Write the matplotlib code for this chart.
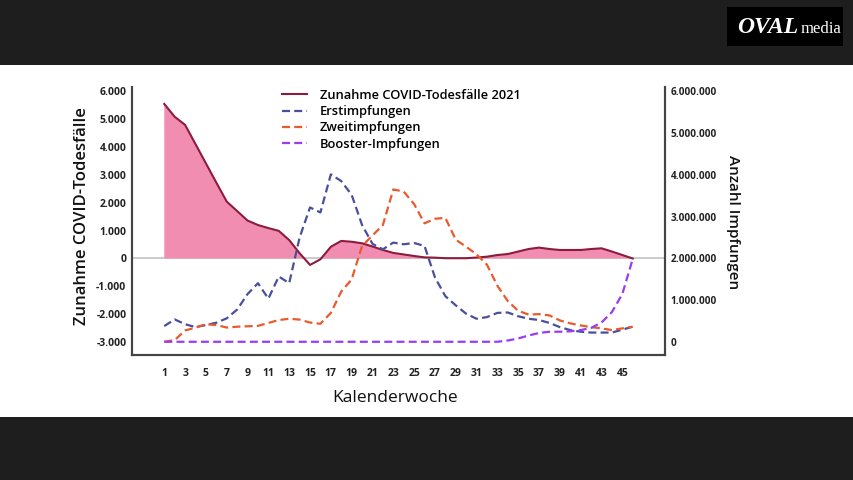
import matplotlib
matplotlib.use("Agg")
import matplotlib.pyplot as plt
from matplotlib.patches import Rectangle
from matplotlib.ticker import FuncFormatter

plt.rcParams["font.family"] = ["Open Sans", "DejaVu Sans"]

# ---- data --------------------------------------------------------------------
weeks = list(range(1, 47))

# Zunahme COVID-Todesfälle 2021 (left axis)
deaths = [5540, 5080, 4790, 4100, 3410, 2720, 2040, 1700, 1360, 1200,
          1090, 990, 660, 190, -230, -30, 420, 630, 600, 545,
          430, 305, 200, 145, 90, 40, 30, 10, 10, 10,
          35, 65, 125, 160, 250, 340, 390, 340, 305, 305,
          305, 340, 365, 250, 125, 0]

# Impfungen in Mio. (right axis)
erst = [0.385, 0.544, 0.43, 0.36, 0.41, 0.465, 0.57, 0.78, 1.15, 1.41,
        1.04, 1.57, 1.41, 2.50, 3.22, 3.10, 4.01, 3.85, 3.52, 2.80,
        2.35, 2.22, 2.38, 2.34, 2.37, 2.30, 1.55, 1.10, 0.88, 0.68,
        0.56, 0.60, 0.70, 0.71, 0.62, 0.56, 0.53, 0.46, 0.36, 0.29,
        0.25, 0.23, 0.23, 0.23, 0.30, 0.37]
zweit = [0.01, 0.05, 0.28, 0.35, 0.43, 0.41, 0.35, 0.37, 0.38, 0.39,
         0.46, 0.53, 0.56, 0.54, 0.47, 0.44, 0.70, 1.21, 1.50, 2.30,
         2.55, 2.80, 3.65, 3.60, 3.30, 2.84, 2.95, 2.97, 2.45, 2.28,
         2.10, 1.85, 1.35, 0.98, 0.75, 0.66, 0.67, 0.64, 0.52, 0.45,
         0.40, 0.36, 0.33, 0.29, 0.33, 0.37]
booster = [0.01, 0.01, 0.01, 0.01, 0.01, 0.01, 0.01, 0.01, 0.01, 0.01,
           0.01, 0.01, 0.01, 0.01, 0.01, 0.01, 0.01, 0.01, 0.01, 0.01,
           0.01, 0.01, 0.01, 0.01, 0.01, 0.01, 0.01, 0.01, 0.01, 0.01,
           0.01, 0.01, 0.01, 0.04, 0.09, 0.16, 0.22, 0.25, 0.25, 0.26,
           0.29, 0.34, 0.47, 0.72, 1.15, 1.99]

left_ticks = [-3000, -2000, -1000, 0, 1000, 2000, 3000, 4000, 5000, 6000]
right_ticks = [0, 1e6, 2e6, 3e6, 4e6, 5e6, 6e6]
x_ticks = list(range(1, 46, 2))

labels = ["Zunahme COVID-Todesfälle 2021", "Erstimpfungen",
          "Zweitimpfungen", "Booster-Impfungen"]


def de_fmt(v, pos=None):
    return f"{int(round(v)):,}".replace(",", ".")


fig = plt.figure(figsize=(8.54, 4.8), dpi=100)
fig.patch.set_facecolor("#1e1e1e")
fig.patches.append(Rectangle((0, 63 / 480), 1, 352 / 480, transform=fig.transFigure,
                             facecolor="white", edgecolor="none", zorder=-10))
# logo
fig.patches.append(Rectangle((727 / 854, 434 / 480), 116 / 854, 39 / 480,
                             transform=fig.transFigure, facecolor="black",
                             edgecolor="none", zorder=-10))
fig.text(737 / 854, 0.942, "OVAL", family="Liberation Serif", style="italic",
         weight="bold", fontsize=17, color="white", va="center", ha="left")
fig.text(801 / 854, 0.940, "media", family="Liberation Serif", fontsize=12,
         color="white", va="center", ha="left")

ax = fig.add_axes([132 / 854, 125 / 480, 533 / 854, 268 / 480])
ax.set_facecolor("none")
lo, hi = -3459, 6147
ax.set_ylim(lo, hi)
ax.set_xlim(-2.1, 49.1)

ax.axhline(0, color="#bdbdbd", lw=1.1, zorder=1)
ax.fill_between(weeks, deaths, 0, where=[d > 0 for d in deaths], interpolate=True,
                color="#f28db2", lw=0, zorder=2)
l0, = ax.plot(weeks, deaths, color="#8c1c3c", lw=1.5, zorder=3)

ax2 = ax.twinx()
ax2.set_ylim((lo + 3000) * 2000 / 3, (hi + 3000) * 2000 / 3)
dash = (0, (3.6, 1.9))
l1, = ax2.plot(weeks, [v * 1e6 for v in erst], color="#4a4f9c", lw=1.6, ls=dash)
l2, = ax2.plot(weeks, [v * 1e6 for v in zweit], color="#e95a2c", lw=1.6, ls=dash)
l3, = ax2.plot(weeks, [v * 1e6 for v in booster], color="#9a3cf0", lw=1.6, ls=dash)

for a in (ax, ax2):
    a.spines["top"].set_visible(False)
    for s in ("left", "right", "bottom"):
        a.spines[s].set_color("#444444")
        a.spines[s].set_linewidth(1.5)
    a.tick_params(length=0, labelsize=7.5, colors="#222222")

ax.set_yticks(left_ticks)
ax.yaxis.set_major_formatter(FuncFormatter(de_fmt))
ax.set_xticks(x_ticks)
ax.tick_params(axis="x", pad=9)
ax.tick_params(axis="y", pad=4)
ax2.set_yticks(right_ticks)
ax2.yaxis.set_major_formatter(FuncFormatter(de_fmt))
ax2.tick_params(axis="y", pad=4, labelsize=7.2)
for t in ax.get_xticklabels() + ax.get_yticklabels() + ax2.get_yticklabels():
    t.set_fontweight("bold")

ax.set_ylabel("Zunahme COVID-Todesfälle", fontsize=12, fontweight="semibold",
              color="#111111")
ax.yaxis.set_label_coords(-0.078, 0.52)
ax2.set_ylabel("Anzahl Impfungen", fontsize=11, fontweight="semibold",
               color="#111111", rotation=270, va="center")
ax2.yaxis.set_label_coords(1.128, 0.495)
ax.set_xlabel("Kalenderwoche", fontsize=12.5, color="#111111", va="center")
ax.xaxis.set_label_coords(0.493, -0.16)

ax2.legend([l0, l1, l2, l3], labels, loc="upper left",
           bbox_to_anchor=(0.272, 1.013), frameon=False,
           handlelength=1.9, handletextpad=1.0, labelspacing=0.26,
           borderaxespad=0, prop={"weight": "semibold", "size": 9.3})

fig.savefig("out.png", dpi=100, facecolor=fig.get_facecolor())
